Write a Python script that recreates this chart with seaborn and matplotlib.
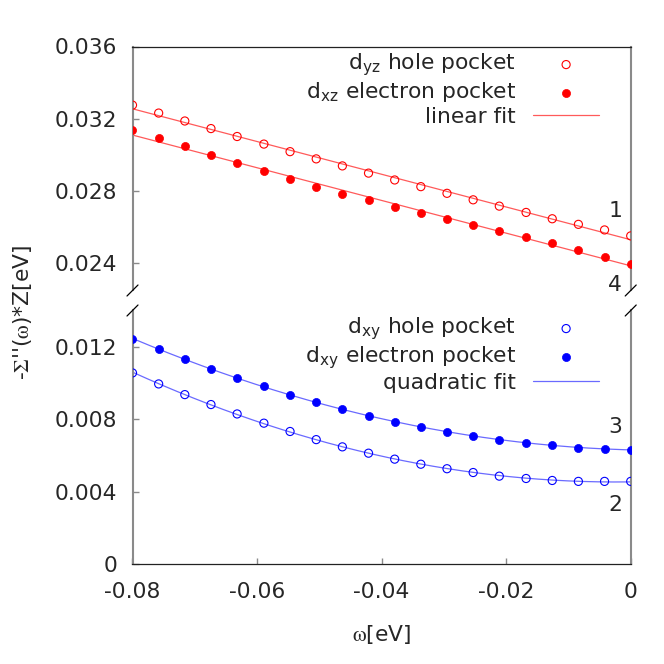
import numpy as np
import pandas as pd
import matplotlib
matplotlib.use("Agg")
import matplotlib.pyplot as plt
import seaborn as sns
from matplotlib.lines import Line2D
from matplotlib.ticker import FuncFormatter

# ---- data ----
omega = [-0.0800, -0.0758, -0.0716, -0.0674, -0.0632, -0.0589, -0.0547, -0.0505,
         -0.0463, -0.0421, -0.0379, -0.0337, -0.0295, -0.0253, -0.0211, -0.0168,
         -0.0126, -0.0084, -0.0042, 0.0]
dyz_hole = [0.03275, 0.03231, 0.03187, 0.03145, 0.03101, 0.03059, 0.03017, 0.02977,
            0.02938, 0.02898, 0.02860, 0.02823, 0.02786, 0.02750, 0.02715, 0.02680,
            0.02645, 0.02614, 0.02583, 0.02550]
dxz_electron = [0.03138, 0.03092, 0.03046, 0.02999, 0.02953, 0.02907, 0.02865, 0.02823,
                0.02784, 0.02748, 0.02711, 0.02678, 0.02645, 0.02611, 0.02578, 0.02543,
                0.02508, 0.02471, 0.02435, 0.02396]
dxy_hole = [0.01057, 0.00996, 0.00937, 0.00882, 0.00830, 0.00779, 0.00733, 0.00688,
            0.00648, 0.00613, 0.00580, 0.00552, 0.00527, 0.00506, 0.00486, 0.00473,
            0.00462, 0.00457, 0.00457, 0.00457]
dxy_electron = [0.01246, 0.01187, 0.01132, 0.01079, 0.01029, 0.00983, 0.00937, 0.00895,
                0.00856, 0.00819, 0.00786, 0.00758, 0.00731, 0.00707, 0.00687, 0.00670,
                0.00657, 0.00644, 0.00637, 0.00633]

top_labels = [r"d$_{\mathregular{yz}}$ hole pocket", r"d$_{\mathregular{xz}}$ electron pocket", "linear fit"]
bot_labels = [r"d$_{\mathregular{xy}}$ hole pocket", r"d$_{\mathregular{xy}}$ electron pocket", "quadratic fit"]
top_yticks = [0.024, 0.028, 0.032, 0.036]
bot_yticks = [0.0, 0.004, 0.008, 0.012]
xticks = [-0.08, -0.06, -0.04, -0.02, 0.0]
curve_tags = ["1", "4", "3", "2"]

# ---- style ----
sns.set_theme(style="white")
plt.rcParams['font.family'] = ['DejaVu Sans']
plt.rcParams['mathtext.fontset'] = 'stix'
FS = 15.7
RED, RED_FIT = "#ff0000", "#ff5a5a"
BLUE, BLUE_FIT = "#0000ff", "#6a6aff"
GRAY = "#8a8a8a"

W = H = 664
L, R = 132.5, 630.7
T1, B1 = 46.5, 290.0
T2, B2 = 310.0, 564.0

fig = plt.figure(figsize=(W / 100, H / 100), dpi=100)
ax1 = fig.add_axes([L / W, 1 - B1 / H, (R - L) / W, (B1 - T1) / H])
ax2 = fig.add_axes([L / W, 1 - B2 / H, (R - L) / W, (B2 - T2) / H])

x = np.array(omega)
xf = np.linspace(min(omega), max(omega), 200)

def draw(ax, ys, labels, col, fitcol, deg):
    open_y, fill_y = ys
    for yy in (open_y, fill_y):
        c = np.polyfit(x, np.array(yy), deg)
        sns.lineplot(x=xf, y=np.polyval(c, xf), ax=ax, color=fitcol, lw=0.9,
                     label=labels[2] if yy is fill_y else None, zorder=1)
    sns.scatterplot(x=omega, y=open_y, ax=ax, marker='o', s=34, facecolor='none',
                    edgecolor=col, linewidth=0.8, label=labels[0], zorder=3)
    sns.scatterplot(x=omega, y=fill_y, ax=ax, marker='o', s=34, color=col,
                    edgecolor=col, linewidth=0.5, label=labels[1], zorder=3)

draw(ax1, (dyz_hole, dxz_electron), top_labels, RED, RED_FIT, 1)
draw(ax2, (dxy_hole, dxy_electron), bot_labels, BLUE, BLUE_FIT, 2)

fmt = FuncFormatter(lambda v, p: f"{round(v, 6) + 0.0:g}")

for ax in (ax1, ax2):
    ax.set_xlim(-0.08, 0.0)
    ax.set_xlabel("")
    ax.set_ylabel("")
    ax.yaxis.set_major_formatter(fmt)
    ax.xaxis.set_major_formatter(fmt)
    ax.tick_params(axis='y', direction='in', length=4, width=1, color=GRAY,
                   pad=11, labelsize=FS, left=True, right=False)
    for s in ('left', 'right'):
        ax.spines[s].set_color(GRAY)
        ax.spines[s].set_linewidth(1.5)

ax1.set_ylim(0.0225, 0.036)
ax1.set_yticks(top_yticks)
ax1.set_xticks([])
ax1.spines['bottom'].set_visible(False)
ax1.spines['top'].set_color("#222222")
ax1.spines['top'].set_linewidth(0.9)

ax2.set_ylim(0.0, 0.01405)
ax2.set_yticks(bot_yticks)
ax2.set_xticks(xticks)
ax2.tick_params(axis='x', direction='in', length=4, width=1, color=GRAY,
                pad=13, labelsize=FS, bottom=True, top=False)
ax2.spines['top'].set_visible(False)
ax2.spines['bottom'].set_color("#222222")
ax2.spines['bottom'].set_linewidth(0.9)

# legends (gnuplot-like: text right-aligned, sample on the right)
def legend(ax, labels, yanchor):
    h, l = ax.get_legend_handles_labels()
    order = [l.index(s) for s in labels]
    ax.legend([h[i] for i in order], [l[i] for i in order], loc='upper right',
              bbox_to_anchor=(0.936, yanchor), frameon=False, markerfirst=False,
              handlelength=3.0, handletextpad=0.8, labelspacing=0.1,
              borderaxespad=0, borderpad=0, fontsize=FS)

legend(ax1, top_labels, 0.977)
legend(ax2, bot_labels, 0.976)

# curve tags
ax1.text(-0.0025, 0.02690, curve_tags[0], ha='center', va='center', fontsize=FS)
ax1.text(-0.0025, 0.02278, curve_tags[1], ha='center', va='center', fontsize=FS, clip_on=False)
ax2.text(-0.0025, 0.00759, curve_tags[2], ha='center', va='center', fontsize=FS)
ax2.text(-0.0025, 0.00326, curve_tags[3], ha='center', va='center', fontsize=FS)

# broken-axis marks
for xp in (L, R):
    for yp in (290.5, 310.5):
        fig.add_artist(Line2D([(xp - 5.5) / W, (xp + 5.5) / W],
                              [1 - (yp + 5.5) / H, 1 - (yp - 5.5) / H],
                              transform=fig.transFigure, color='black', lw=0.9))

fig.text(22 / W, 1 - 312 / H, r"-$\Sigma$''($\mathrm{\omega}$)*Z[eV]", rotation=90,
         ha='center', va='center', fontsize=FS)
fig.text(381 / W, 1 - 634 / H, r"$\mathrm{\omega}$[eV]", ha='center', va='center', fontsize=FS)

fig.savefig("out.png", dpi=100)
